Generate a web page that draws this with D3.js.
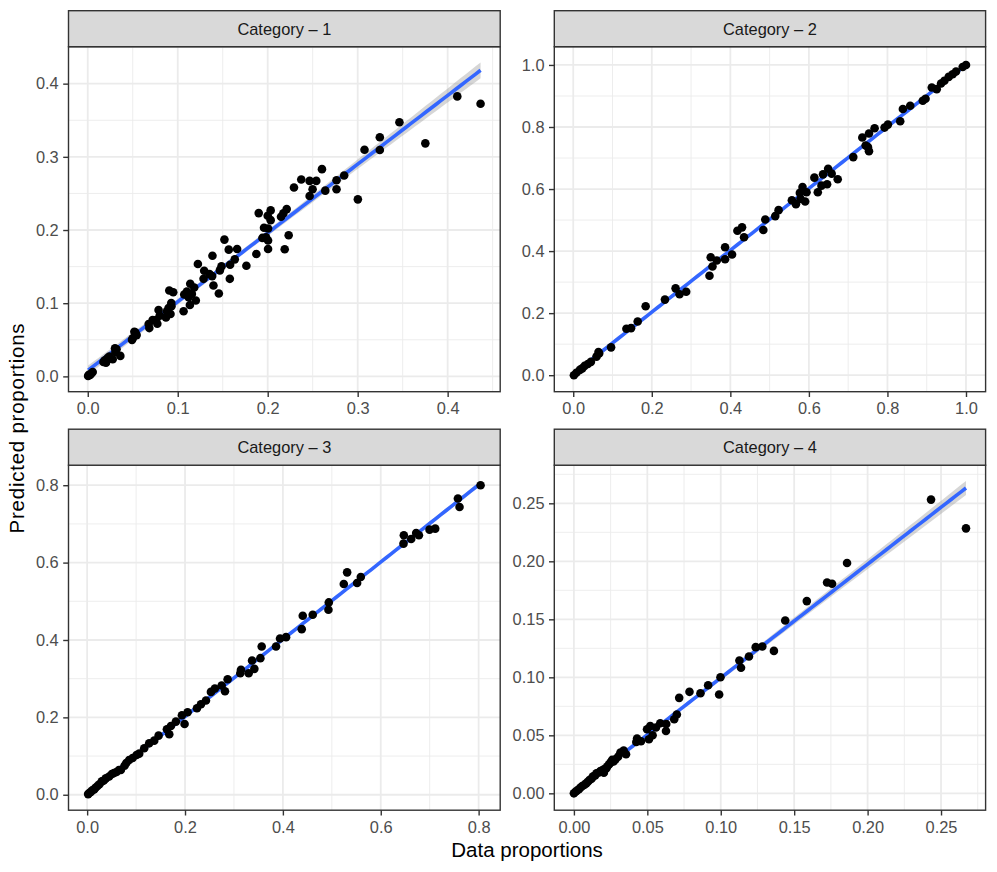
<!DOCTYPE html>
<html><head><meta charset="utf-8">
<script src="https://cdn.jsdelivr.net/npm/d3@7/dist/d3.min.js"></script>
<style>body{margin:0;background:#fff}svg{display:block}text{font-family:"Liberation Sans",Arial,Helvetica,sans-serif}</style>
</head><body><svg id="chart" width="997" height="872"></svg>
<script>
// ---------------- DATA ----------------
const categories = ["Category \u2013 1", "Category \u2013 2", "Category \u2013 3", "Category \u2013 4"];

const cat1X = [0.4366,0.4107,0.3752,0.3464,0.3246,0.3246,0.3076,0.3002,0.2850,0.2765,0.2765,0.2603,0.2640,0.2540,0.2466,0.2373,0.2499,0.2466,0.2292,0.2233,0.2189,0.2211,0.2174,0.2148,0.1900,0.2033,0.2000,0.2033,0.1959,0.2004,0.1941,0.1982,0.2004,0.2004,0.1874,0.1763,0.1660,0.1567,0.1519,0.1634,0.1582,0.1579,0.1486,0.1468,0.1386,0.1224,0.1294,0.1353,0.1287,0.1383,0.1397,0.1457,0.1139,0.1183,0.1102,0.1072,0.1157,0.1120,0.1201,0.1135,0.1065,0.0906,0.0950,0.0928,0.0898,0.0920,0.0869,0.0787,0.0773,0.0721,0.0677,0.0684,0.0518,0.0543,0.0492,0.0362,0.0303,0.0277,0.0240,0.0203,0.0174,0.0055,0.0004,0.0026,0.0307,0.0010,0.0040,0.0190,0.0220,0.0320,0.0500,0.0530,0.0760,0.0800,0.0880,0.0930];
const cat1Y = [0.3725,0.3826,0.3184,0.3473,0.3267,0.3093,0.3097,0.2419,0.2745,0.2680,0.2557,0.2832,0.2538,0.2671,0.2671,0.2690,0.2557,0.2465,0.2580,0.1929,0.1737,0.2286,0.2227,0.2181,0.2231,0.2268,0.2195,0.2135,0.2030,0.2021,0.1892,0.1901,0.1856,0.1741,0.1672,0.1512,0.1741,0.1732,0.1869,0.1599,0.1526,0.1333,0.1503,0.1448,0.1649,0.1535,0.1443,0.1397,0.1333,0.1370,0.1242,0.1132,0.1265,0.1214,0.1159,0.1118,0.1127,0.1081,0.1036,0.0976,0.0889,0.1173,0.1150,0.1003,0.0935,0.0852,0.0806,0.0907,0.0719,0.0770,0.0715,0.0660,0.0609,0.0564,0.0499,0.0280,0.0385,0.0234,0.0270,0.0188,0.0197,0.0060,0.0005,0.0018,0.0334,0.0020,0.0040,0.0220,0.0250,0.0370,0.0520,0.0600,0.0770,0.0830,0.0890,0.0960];

const cat2X = [1.0000,0.9915,0.9746,0.9660,0.9560,0.9450,0.9365,0.9255,0.9129,0.8970,0.8900,0.8580,0.8393,0.8325,0.8012,0.7927,0.7673,0.7530,0.7360,0.7504,0.7530,0.7445,0.7130,0.6734,0.6490,0.6580,0.6360,0.6140,0.6320,0.6464,0.6227,0.5940,0.5838,0.5770,0.5905,0.5670,0.5567,0.5787,0.5228,0.5144,0.4890,0.4840,0.4349,0.4298,0.4180,0.4044,0.3866,0.3866,0.3655,0.3500,0.3545,0.3469,0.2876,0.2707,0.2606,0.2335,0.1844,0.1641,0.1472,0.1354,0.0964,0.0643,0.0592,0.0372,0.0288,0.0169,0.0017,0.0080,0.0230,0.0450,0.0660];
const cat2Y = [1.0000,0.9936,0.9786,0.9700,0.9615,0.9490,0.9402,0.9220,0.9274,0.8910,0.8846,0.8686,0.8579,0.8184,0.8077,0.7981,0.7959,0.7788,0.7660,0.7350,0.7222,0.7404,0.7030,0.6314,0.6656,0.6496,0.6474,0.6368,0.6110,0.6154,0.5897,0.5897,0.6068,0.5876,0.5598,0.5513,0.5640,0.5684,0.5320,0.5128,0.5020,0.4680,0.4444,0.4765,0.4658,0.3889,0.4124,0.3739,0.3697,0.3803,0.3504,0.3205,0.2692,0.2607,0.2799,0.2436,0.2222,0.1731,0.1517,0.1496,0.0897,0.0748,0.0598,0.0363,0.0299,0.0171,0.0000,0.0080,0.0220,0.0430,0.0700];

const cat3X = [0.8040,0.7577,0.7610,0.7113,0.6997,0.6780,0.6724,0.6622,0.6472,0.6465,0.5592,0.5517,0.5313,0.5245,0.4938,0.4931,0.4610,0.4406,0.4385,0.4065,0.3942,0.3860,0.3567,0.3540,0.3370,0.3417,0.3301,0.3144,0.3130,0.2871,0.2817,0.2749,0.2610,0.2530,0.2428,0.2326,0.2244,0.2053,0.1991,0.1937,0.1814,0.1712,0.1678,0.1630,0.1460,0.1371,0.1268,0.1166,0.1064,0.1010,0.0859,0.0764,0.0689,0.0600,0.0505,0.0382,0.0300,0.0211,0.0143,0.0075,0.0020,0.0050,0.0100,0.0170,0.0250,0.0340,0.0450,0.0550,0.0650,0.0800,0.0930];
const cat3Y = [0.8000,0.7655,0.7439,0.6878,0.6852,0.6706,0.6766,0.6611,0.6706,0.6490,0.5627,0.5471,0.5748,0.5446,0.4971,0.4781,0.4652,0.4626,0.4280,0.4073,0.4039,0.3832,0.3832,0.3530,0.3469,0.3254,0.3141,0.3228,0.3141,0.2986,0.2675,0.2822,0.2744,0.2658,0.2434,0.2339,0.2235,0.2132,0.1830,0.2054,0.1890,0.1778,0.1562,0.1691,0.1528,0.1398,0.1329,0.1200,0.1062,0.1027,0.0898,0.0751,0.0639,0.0587,0.0535,0.0423,0.0345,0.0224,0.0138,0.0069,0.0017,0.0050,0.0110,0.0180,0.0270,0.0370,0.0470,0.0560,0.0640,0.0820,0.0950];

const cat4X = [0.2670,0.2432,0.1860,0.1758,0.1724,0.1586,0.1439,0.1362,0.1283,0.1238,0.1192,0.1138,0.1127,0.0998,0.0989,0.0914,0.0862,0.0787,0.0717,0.0701,0.0683,0.0627,0.0629,0.0588,0.0559,0.0520,0.0498,0.0536,0.0511,0.0457,0.0430,0.0425,0.0355,0.0339,0.0317,0.0301,0.0283,0.0260,0.0249,0.0226,0.0204,0.0204,0.0181,0.0154,0.0129,0.0106,0.0084,0.0057,0.0034,0.0011,0.0000,0.0020,0.0045,0.0070,0.0095,0.0120,0.0145,0.0170,0.0190,0.0220,0.0240,0.0270];
const cat4Y = [0.2284,0.2532,0.1985,0.1807,0.1818,0.1657,0.1490,0.1228,0.1266,0.1260,0.1180,0.1082,0.1145,0.1001,0.0852,0.0932,0.0863,0.0875,0.0823,0.0679,0.0639,0.0538,0.0598,0.0604,0.0567,0.0581,0.0552,0.0501,0.0466,0.0449,0.0472,0.0443,0.0337,0.0368,0.0351,0.0316,0.0293,0.0288,0.0265,0.0230,0.0207,0.0178,0.0193,0.0173,0.0144,0.0115,0.0086,0.0063,0.0035,0.0014,0.0000,0.0022,0.0050,0.0072,0.0100,0.0125,0.0155,0.0180,0.0195,0.0215,0.0250,0.0275];

const xTicks = [[0,0.1,0.2,0.3,0.4],[0,0.2,0.4,0.6,0.8,1.0],[0,0.2,0.4,0.6,0.8],[0,0.05,0.1,0.15,0.2,0.25]];
const xTickLabels = [["0.0","0.1","0.2","0.3","0.4"],["0.0","0.2","0.4","0.6","0.8","1.0"],["0.0","0.2","0.4","0.6","0.8"],["0.00","0.05","0.10","0.15","0.20","0.25"]];
const yTicks = [[0,0.1,0.2,0.3,0.4],[0,0.2,0.4,0.6,0.8,1.0],[0,0.2,0.4,0.6,0.8],[0,0.05,0.1,0.15,0.2,0.25]];
const yTickLabels = [["0.0","0.1","0.2","0.3","0.4"],["0.0","0.2","0.4","0.6","0.8","1.0"],["0.0","0.2","0.4","0.6","0.8"],["0.00","0.05","0.10","0.15","0.20","0.25"]];

const xTitle = "Data proportions";
const yTitle = "Predicted proportions";

// ---------------- DRAWING ----------------
const seriesX = [cat1X, cat2X, cat3X, cat4X];
const seriesY = [cat1Y, cat2Y, cat3Y, cat4Y];

const svg = d3.select("#chart");
const colX = [[68.5, 500.2], [554.3, 985.6]];
const rowTop = [10.7, 429.2];
const stripH = 36;
const plotH = 345;
const tickFont = 16.4, titleFont = 20.5;

function lmFit(xs, ys) {
  const n = xs.length;
  const mx = d3.mean(xs), my = d3.mean(ys);
  let sxx = 0, sxy = 0;
  for (let i = 0; i < n; i++) { sxx += (xs[i]-mx)**2; sxy += (xs[i]-mx)*(ys[i]-my); }
  const b = sxy / sxx, a = my - b*mx;
  let rss = 0;
  for (let i = 0; i < n; i++) rss += (ys[i] - a - b*xs[i])**2;
  const s2 = rss / (n-2);
  const df = n-2;
  const z = 1.959964;
  const t = z + (z**3 + z)/(4*df) + (5*z**5 + 16*z**3 + 3*z)/(96*df*df);
  const [x0, x1] = d3.extent(xs);
  return d3.range(80).map(i => {
    const x = x0 + (x1-x0)*i/79;
    const fit = a + b*x;
    const se = Math.sqrt(s2*(1/n + (x-mx)**2/sxx));
    return {x, y: fit, lo: fit - t*se, hi: fit + t*se};
  });
}

for (let p = 0; p < 4; p++) {
  const col = p % 2, row = Math.floor(p/2);
  const [px0, px1] = colX[col];
  const sTop = rowTop[row];
  const pTop = sTop + stripH, pBot = pTop + plotH;
  const xs = seriesX[p], ys = seriesY[p];
  const fit = lmFit(xs, ys);

  const [xmin, xmax] = d3.extent(xs);
  const ymin = Math.min(d3.min(ys), d3.min(fit, d => d.lo));
  const ymax = Math.max(d3.max(ys), d3.max(fit, d => d.hi));
  const dx = (xmax-xmin)*0.05, dy = (ymax-ymin)*0.05;
  const x = d3.scaleLinear().domain([xmin-dx, xmax+dx]).range([px0, px1]);
  const y = d3.scaleLinear().domain([ymin-dy, ymax+dy]).range([pBot, pTop]);

  const g = svg.append("g");
  g.append("rect").attr("x", px0).attr("y", pTop).attr("width", px1-px0).attr("height", plotH).attr("fill", "#fff");

  const minorOf = (ticks, dom) => {
    const h = ticks[1]-ticks[0];
    const arr = [ticks[0]-h/2].concat(ticks.map(t => t + h/2));
    return arr.filter(v => v >= dom[0] && v <= dom[1]);
  };
  g.selectAll(".mx").data(minorOf(xTicks[p], x.domain())).join("line")
    .attr("x1", d => x(d)).attr("x2", d => x(d)).attr("y1", pTop).attr("y2", pBot)
    .attr("stroke", "#EBEBEB").attr("stroke-width", 0.9);
  g.selectAll(".my").data(minorOf(yTicks[p], y.domain())).join("line")
    .attr("y1", d => y(d)).attr("y2", d => y(d)).attr("x1", px0).attr("x2", px1)
    .attr("stroke", "#EBEBEB").attr("stroke-width", 0.9);
  g.selectAll(".gx").data(xTicks[p]).join("line")
    .attr("x1", d => x(d)).attr("x2", d => x(d)).attr("y1", pTop).attr("y2", pBot)
    .attr("stroke", "#EBEBEB").attr("stroke-width", 1.8);
  g.selectAll(".gy").data(yTicks[p]).join("line")
    .attr("y1", d => y(d)).attr("y2", d => y(d)).attr("x1", px0).attr("x2", px1)
    .attr("stroke", "#EBEBEB").attr("stroke-width", 1.8);

  g.append("path").datum(fit)
    .attr("d", d3.area().x(d => x(d.x)).y0(d => y(d.lo)).y1(d => y(d.hi)))
    .attr("fill", "#999999").attr("fill-opacity", 0.4);
  g.append("path").datum(fit)
    .attr("d", d3.line().x(d => x(d.x)).y(d => y(d.y)))
    .attr("fill", "none").attr("stroke", "#3366FF").attr("stroke-width", 3.6);

  g.selectAll(".pt").data(xs.map((v, i) => [v, ys[i]])).join("circle")
    .attr("cx", d => x(d[0])).attr("cy", d => y(d[1])).attr("r", 4.3).attr("fill", "#000");

  g.append("rect").attr("x", px0).attr("y", pTop).attr("width", px1-px0).attr("height", plotH)
    .attr("fill", "none").attr("stroke", "#333333").attr("stroke-width", 1.4);

  g.append("rect").attr("x", px0).attr("y", sTop).attr("width", px1-px0).attr("height", stripH)
    .attr("fill", "#D9D9D9").attr("stroke", "#333333").attr("stroke-width", 1.4);
  g.append("text").attr("x", (px0+px1)/2).attr("y", sTop + stripH/2).attr("dy", "0.36em")
    .attr("text-anchor", "middle").attr("font-size", tickFont).attr("fill", "#1A1A1A").text(categories[p]);

  const xa = g.append("g").attr("transform", `translate(0,${pBot})`)
    .call(d3.axisBottom(x).tickValues(xTicks[p]).tickFormat((d, i) => xTickLabels[p][i]).tickSizeOuter(0).tickSize(5.3).tickPadding(5.4));
  const ya = g.append("g").attr("transform", `translate(${px0},0)`)
    .call(d3.axisLeft(y).tickValues(yTicks[p]).tickFormat((d, i) => yTickLabels[p][i]).tickSizeOuter(0).tickSize(5.3).tickPadding(4.5));
  [xa, ya].forEach(a => {
    a.select(".domain").remove();
    a.selectAll(".tick line").attr("stroke", "#333333").attr("stroke-width", 1.4);
    a.selectAll(".tick text").attr("fill", "#4D4D4D").attr("font-size", tickFont)
      .style("font-family", '"Liberation Sans",Arial,Helvetica,sans-serif');
  });
}

svg.append("text").attr("x", (colX[0][0]+colX[1][1])/2).attr("y", 856.5)
  .attr("text-anchor", "middle").attr("font-size", titleFont).attr("fill", "#000").text(xTitle);
const yMid = (rowTop[0] + stripH + rowTop[1] + stripH + plotH) / 2;
svg.append("text").attr("transform", `translate(24,${yMid}) rotate(-90)`)
  .attr("text-anchor", "middle").attr("font-size", titleFont).attr("fill", "#000")
  .attr("textLength", 210).attr("lengthAdjust", "spacing").text(yTitle);
</script></body></html>
